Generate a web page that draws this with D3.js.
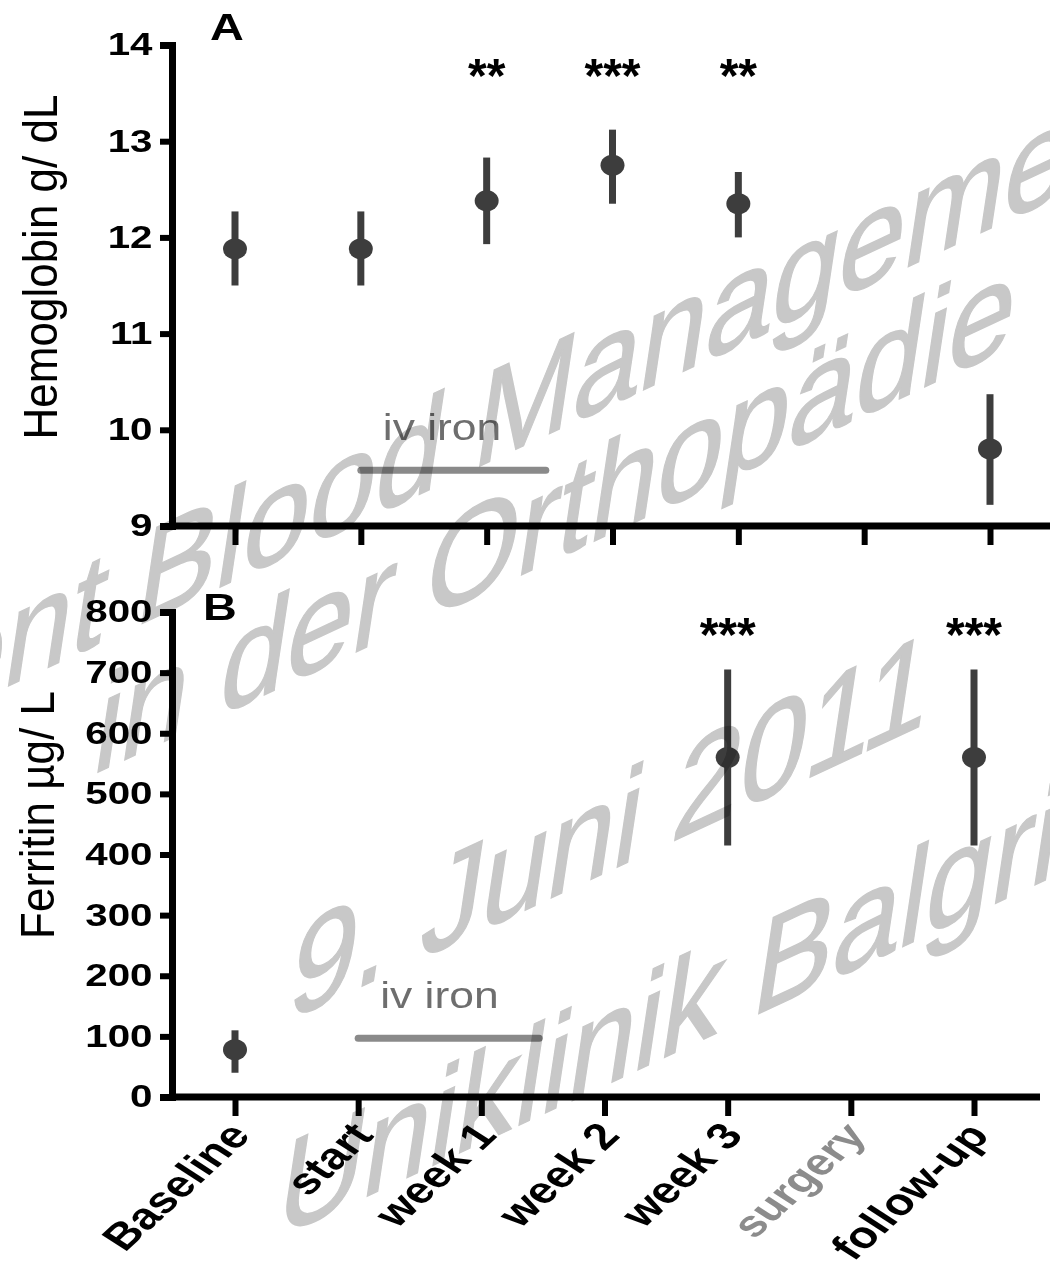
<!DOCTYPE html>
<html>
<head>
<meta charset="utf-8">
<script src="https://cdn.jsdelivr.net/npm/d3@7"></script>
<style>
  body { margin: 0; background: #fff; }
  svg { display: block; font-family: "Liberation Sans", Arial, sans-serif; }
</style>
</head>
<body>
<svg id="chart" width="1050" height="1264"></svg>
<script>
// time points (shared by both panels)
const categories = ['Baseline', 'start', 'week 1', 'week 2', 'week 3', 'surgery', 'follow-up'];

// panel A - hemoglobin g/dL (mean and error bar ends)
const hbMean = [11.88, 11.88, 12.38, 12.75, 12.35, null, 9.8];
const hbLow  = [11.5, 11.5, 11.93, 12.35, 12.0, null, 9.22];
const hbHigh = [12.27, 12.27, 12.83, 13.12, 12.68, null, 10.37];
const hbStars = ['', '', '**', '***', '**', '', ''];
const hbTicks = [9, 10, 11, 12, 13, 14];

// panel B - ferritin ug/L
const ferMean = [78, null, null, null, 560, null, 560];
const ferLow  = [40, null, null, null, 415, null, 415];
const ferHigh = [110, null, null, null, 705, null, 705];
const ferStars = ['', '', '', '', '***', '', '***'];
const ferTicks = [0, 100, 200, 300, 400, 500, 600, 700, 800];

// iv iron period, in category index units
const ivIronSpan = [1, 2.47];

const watermark = ['Patient Blood Management', 'in der Orthopädie', '9. Juni 2011', 'Uniklinik Balgrist'];

const svg = d3.select('#chart');
const markColor = '#3d3d3d';

function drawPanel(p) {
    let g = svg.append('g');
    let x = p.x, y = p.y;

    // y axis
    let ya = g.append('g')
        .attr('transform', 'translate(' + p.axisX + ',0)')
        .call(d3.axisLeft(y).tickValues(p.ticks).tickFormat(d3.format('d'))
            .tickSize(12).tickSizeOuter(12).tickPadding(3));
    ya.attr('font-size', 31).attr('font-family', null);
    ya.select('.domain').attr('stroke', '#000').attr('stroke-width', 7).attr('fill', 'none');
    ya.selectAll('.tick line').attr('stroke', '#000').attr('stroke-width', 6);
    ya.selectAll('.tick text')
        .attr('fill', '#000')
        .attr('font-weight', 'bold')
        .attr('transform', 'scale(1.3,1)');

    // x axis: long base line plus ticks
    let y0 = y.range()[0];
    g.append('line')
        .attr('x1', p.axisX - 3).attr('x2', p.axisEnd)
        .attr('y1', y0).attr('y2', y0)
        .attr('stroke', '#000').attr('stroke-width', 7);
    let xa = g.append('g')
        .attr('transform', 'translate(0,' + y0 + ')')
        .call(d3.axisBottom(x).tickSize(19).tickSizeOuter(0).tickFormat(''));
    xa.select('.domain').remove();
    xa.selectAll('.tick line').attr('stroke', '#000').attr('stroke-width', 6);

    if (p.showLabels) {
        g.selectAll('.xlab')
            .data(categories)
            .enter()
            .append('text')
            .attr('class', 'xlab')
            .attr('transform', function(d) { return 'translate(' + (x(d) + 4) + ',' + (y0 + 31) + ') scale(1.3,1) rotate(-50)'; })
            .attr('text-anchor', 'end')
            .attr('dy', '0.35em')
            .attr('font-size', 37)
            .attr('font-weight', 'bold')
            .attr('fill', function(d) { return d == 'surgery' ? '#8c8c8c' : '#000'; })
            .text(function(d) { return d; });
    }

    // error bars and points
    let pts = categories.map(function(c, i) {
        return {cat: c, mean: p.mean[i], low: p.low[i], high: p.high[i], star: p.stars[i]};
    }).filter(function(d) { return d.mean != null; });

    g.selectAll('.err')
        .data(pts)
        .enter()
        .append('line')
        .attr('x1', function(d) { return x(d.cat); })
        .attr('x2', function(d) { return x(d.cat); })
        .attr('y1', function(d) { return y(d.low); })
        .attr('y2', function(d) { return y(d.high); })
        .attr('stroke', markColor)
        .attr('stroke-width', 7);

    g.selectAll('.pt')
        .data(pts)
        .enter()
        .append('ellipse')
        .attr('cx', function(d) { return x(d.cat); })
        .attr('cy', function(d) { return y(d.mean); })
        .attr('rx', 12)
        .attr('ry', 10.5)
        .attr('fill', markColor);

    g.selectAll('.star')
        .data(pts.filter(function(d) { return d.star; }))
        .enter()
        .append('text')
        .attr('x', function(d) { return x(d.cat); })
        .attr('y', y(p.starLevel))
        .attr('dy', '0.55em')
        .attr('text-anchor', 'middle')
        .attr('font-size', 48)
        .attr('font-weight', 'bold')
        .text(function(d) { return d.star; });

    // iv iron bar
    let ix = function(v) { return x.range()[0] + v * x.step(); };
    g.append('line')
        .attr('x1', ix(ivIronSpan[0])).attr('x2', ix(ivIronSpan[1]))
        .attr('y1', y(p.ivLevel)).attr('y2', y(p.ivLevel))
        .attr('stroke', '#8a8a8a').attr('stroke-width', 7).attr('stroke-linecap', 'round');
    g.append('text')
        .attr('transform', 'translate(' + (ix(ivIronSpan[0]) + 22) + ',' + (y(p.ivLevel) - 30) + ') scale(1.2,1)')
        .attr('font-size', 37)
        .attr('fill', '#6e6e6e')
        .text('iv iron');

    // axis title and panel letter
    g.append('text')
        .attr('transform', 'translate(' + p.titleX + ',' + p.titleY + ') scale(1.1,1) rotate(-90)')
        .attr('text-anchor', 'middle')
        .attr('font-size', 44)
        .text(p.title);
    g.append('text')
        .attr('transform', 'translate(' + p.letterX + ',' + p.letterY + ') scale(1.3,1)')
        .attr('font-size', 36)
        .attr('font-weight', 'bold')
        .text(p.letter);
}

drawPanel({
    x: d3.scalePoint().domain(categories).range([235, 990]),
    y: d3.scaleLinear().domain([9, 14]).range([526, 45]),
    ticks: hbTicks, mean: hbMean, low: hbLow, high: hbHigh, stars: hbStars,
    starLevel: 13.79, ivLevel: 9.58,
    axisX: 172, axisEnd: 1050, showLabels: false,
    title: 'Hemoglobin g/ dL', titleX: 57, titleY: 267,
    letter: 'A', letterX: 210, letterY: 40
});

drawPanel({
    x: d3.scalePoint().domain(categories).range([235, 974]),
    y: d3.scaleLinear().domain([0, 800]).range([1097, 612]),
    ticks: ferTicks, mean: ferMean, low: ferLow, high: ferHigh, stars: ferStars,
    starLevel: 780, ivLevel: 97,
    axisX: 172, axisEnd: 1040, showLabels: true,
    title: 'Ferritin µg/ L', titleX: 54, titleY: 815,
    letter: 'B', letterX: 203, letterY: 620
});

// watermark over the chart: slanted text, multiplied onto the marks
let wmStarts = [[-271, 816], [90, 776], [285, 1022], [273, 1240]];
svg.append('g')
    .style('mix-blend-mode', 'multiply')
    .attr('font-size', 140)
    .attr('fill', '#c8c8c8')
    .attr('stroke', '#c8c8c8')
    .attr('stroke-width', 1.5)
    .selectAll('text')
    .data(watermark)
    .enter()
    .append('text')
    .attr('transform', function(d, i) {
        return 'matrix(0.85,-0.396,-0.15,1,' + wmStarts[i][0] + ',' + wmStarts[i][1] + ')';
    })
    .text(function(d) { return d; });
</script>
</body>
</html>
